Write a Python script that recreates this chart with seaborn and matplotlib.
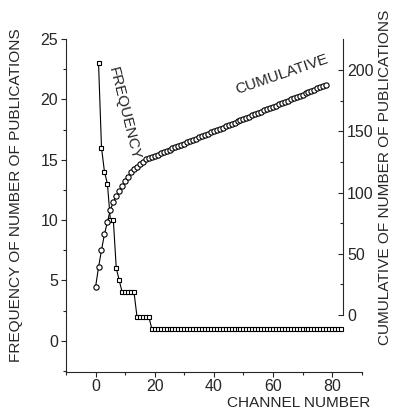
import matplotlib
matplotlib.use("Agg")
import matplotlib.pyplot as plt
from matplotlib.ticker import MultipleLocator, FixedLocator
import numpy as np
import pandas as pd
import seaborn as sns

# channel numbers and frequency
channels = list(range(1, 84))
frequency = ([23, 16, 14, 13, 10, 10, 6, 5]
             + [4, 4, 4, 4, 4]
             + [2, 2, 2, 2, 2]
             + [1] * 65)
# cumulative curve is drawn one channel to the left and stops earlier
cum_channels = list(range(0, 79))
cumulative = list(np.cumsum(frequency)[:79])

freq_df = pd.DataFrame({"channel": channels, "freq": frequency})
cum_df = pd.DataFrame({"channel": cum_channels, "cum": cumulative})

sns.set_style("ticks")
plt.rcParams["font.family"] = ["Liberation Sans", "DejaVu Sans"]
FS = 11.5
LFS = 11.1

fig = plt.figure(figsize=(3.96, 4.15), dpi=100)
ax = fig.add_axes([0.1667, 0.1043, 0.7467, 0.8017])
ax2 = ax.twinx()

sns.lineplot(data=freq_df, x="channel", y="freq", ax=ax, color="black", lw=0.8,
             marker="s", markersize=3.4, markerfacecolor="white",
             markeredgecolor="black", markeredgewidth=0.8)
sns.lineplot(data=cum_df, x="channel", y="cum", ax=ax2, color="black", lw=0.8,
             marker="o", markersize=3.8, markerfacecolor="white",
             markeredgecolor="black", markeredgewidth=0.8)

ax.set_xlim(-10, 90)
ax.set_ylim(-2.57, 25)
ax2.set_ylim(-46.3, 225.3)

# axes look
for s in ["top", "right"]:
    ax.spines[s].set_visible(False)
for s in ["top", "left", "bottom"]:
    ax2.spines[s].set_visible(False)
ax2.spines["right"].set_position(("axes", 0.937))
ax2.spines["right"].set_bounds(0, 225.3)
for a in (ax, ax2):
    for sp in a.spines.values():
        sp.set_linewidth(0.8)

ax.xaxis.set_major_locator(MultipleLocator(20))
ax.xaxis.set_minor_locator(MultipleLocator(10))
ax.yaxis.set_major_locator(MultipleLocator(5))
ax.yaxis.set_minor_locator(MultipleLocator(2.5))
ax2.yaxis.set_major_locator(FixedLocator([0, 50, 100, 150, 200]))
ax2.yaxis.set_minor_locator(FixedLocator([25, 75, 125, 175]))

ax.tick_params(which="major", direction="out", length=3.5, width=0.8, labelsize=FS, pad=2)
ax.tick_params(which="minor", direction="out", length=2.5, width=0.8)
ax2.tick_params(which="major", direction="in", length=3.5, width=0.8, labelsize=FS, pad=3)
ax2.tick_params(which="minor", direction="in", length=2.5, width=0.8)

ax.set_xlabel("")
ax.set_ylabel("")
ax2.set_ylabel("")
fig.text(299 / 396, 1 - 403 / 415, "CHANNEL NUMBER", ha="center", va="center", fontsize=LFS)
fig.text(16 / 396, 1 - 195 / 415, "FREQUENCY OF NUMBER OF PUBLICATIONS",
         rotation=90, ha="center", va="center", fontsize=LFS)
fig.text(385 / 396, 1 - 177 / 415, "CUMULATIVE OF NUMBER OF PUBLICATIONS",
         rotation=90, ha="center", va="center", fontsize=LFS)

ax.text(9.8, 18.8, "FREQUENCY", rotation=-76, ha="center", va="center", fontsize=11)
ax.text(63.0, 22.1, "CUMULATIVE", rotation=19, ha="center", va="center", fontsize=11)

fig.savefig("out.png", dpi=100)
